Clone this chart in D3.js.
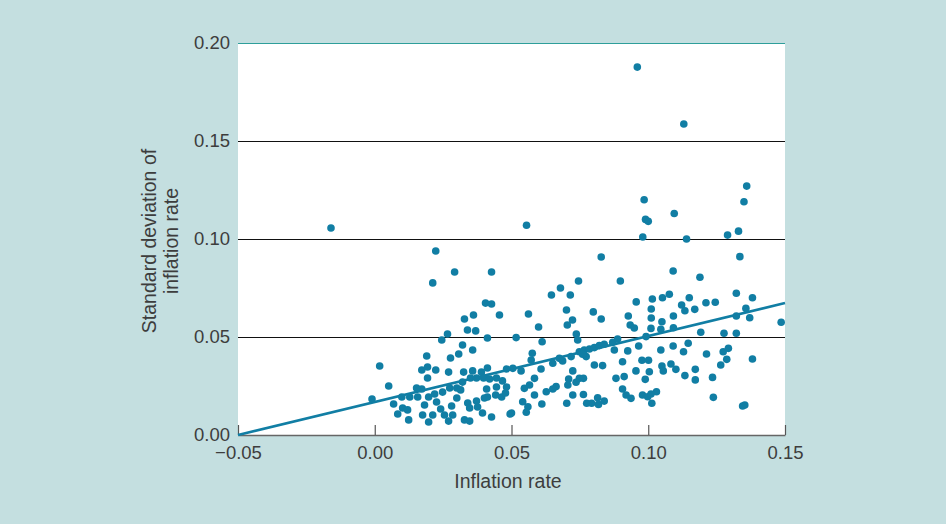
<!DOCTYPE html>
<html>
<head>
<meta charset="utf-8">
<script src="https://cdn.jsdelivr.net/npm/d3@7"></script>
<style>
  body { margin: 0; background: #c4dfe0; }
  svg { display: block; }
</style>
</head>
<body>
<svg id="chart" width="946" height="524"></svg>
<script>
// axis ticks
const xTicks = [-0.05, 0.00, 0.05, 0.10, 0.15];
const yTicks = [0.00, 0.05, 0.10, 0.15, 0.20];

// fitted line, start and end (inflation, std dev)
const fitLine = [[-0.05, 0.0], [0.15, 0.0673]];

// [inflation rate, standard deviation of inflation rate]
const points = [
  // outliers
  [-0.016, 0.1056], [0.096, 0.1877], [0.113, 0.1587], [0.136, 0.127], [0.135, 0.119],
  [0.0985, 0.120], [0.099, 0.110], [0.100, 0.109], [0.1095, 0.113], [0.0555, 0.107],
  [0.098, 0.101], [0.114, 0.100], [0.129, 0.102], [0.133, 0.104], [0.1335, 0.091],
  // 0.00 - 0.05, lower band
  [0.0245, 0.0485], [0.0412, 0.0495], [0.0321, 0.0459], [0.0358, 0.0434], [0.0018, 0.0352],
  [0.019, 0.0403], [0.0277, 0.0393], [0.0307, 0.0413], [0.0172, 0.0332], [0.0193, 0.0347],
  [0.0223, 0.0332], [0.0193, 0.0291], [0.027, 0.0321], [0.0325, 0.0321], [0.0358, 0.0327],
  [0.039, 0.0321], [0.0412, 0.0342], [0.0482, 0.0337], [0.0051, 0.025], [-0.001, 0.0184],
  [0.0099, 0.0194], [0.0128, 0.0194], [0.0157, 0.0194], [0.0172, 0.0235], [0.0197, 0.0194],
  [0.0219, 0.0209], [0.0248, 0.0219], [0.0274, 0.024], [0.030, 0.024], [0.0321, 0.027],
  [0.035, 0.0291], [0.0372, 0.0291], [0.0398, 0.0291], [0.042, 0.0286], [0.0445, 0.0291],
  [0.0467, 0.0276], [0.0482, 0.0245], [0.0069, 0.0158], [0.0102, 0.0138], [0.0084, 0.0107],
  [0.0124, 0.0077], [0.012, 0.0128], [0.0175, 0.0102], [0.0197, 0.0066], [0.0182, 0.0153],
  [0.0212, 0.0102], [0.0241, 0.0133], [0.0255, 0.0102], [0.0281, 0.0148], [0.0285, 0.0102],
  [0.027, 0.0071], [0.030, 0.0189], [0.0314, 0.023], [0.034, 0.0163], [0.0347, 0.0138],
  [0.0376, 0.0143], [0.0394, 0.0112], [0.0372, 0.0173], [0.0409, 0.0235], [0.0412, 0.0194],
  [0.0442, 0.0204], [0.0445, 0.0245], [0.0464, 0.0194], [0.0478, 0.0214], [0.0427, 0.0092],
  [0.0328, 0.0077], [0.0347, 0.0071], [0.050, 0.0112], [0.0401, 0.0189], [0.0226, 0.0168],
  [0.0153, 0.024],
  // 0.00 - 0.05, upper band
  [0.0223, 0.0939], [0.0292, 0.0832], [0.0427, 0.0832], [0.0212, 0.0776], [0.0405, 0.0673],
  [0.0427, 0.0668], [0.0328, 0.0592], [0.0361, 0.0612], [0.0456, 0.0612], [0.0266, 0.0515],
  [0.0339, 0.0536], [0.0369, 0.0531],
  // 0.05 - 0.10, upper band
  [0.0828, 0.0908], [0.0745, 0.0786], [0.0898, 0.0786], [0.0679, 0.075], [0.0646, 0.0714],
  [0.0715, 0.0714], [0.0956, 0.0679], [0.1015, 0.0694], [0.0562, 0.0617], [0.0701, 0.0638],
  [0.0799, 0.0628], [0.0723, 0.0587], [0.0828, 0.0592], [0.0927, 0.0607], [0.1011, 0.0643],
  [0.1011, 0.0597], [0.0599, 0.0551], [0.0704, 0.0561], [0.0934, 0.0561], [0.0949, 0.0546],
  [0.0737, 0.0515],
  // 0.05 - 0.10, lower band
  [0.0517, 0.0497], [0.0612, 0.0476], [0.0742, 0.0485], [0.087, 0.0473], [0.0888, 0.049],
  [0.0965, 0.0454], [0.0992, 0.0502], [0.0748, 0.0425], [0.0766, 0.0434], [0.0785, 0.0439],
  [0.0803, 0.0446], [0.0821, 0.0456], [0.0839, 0.0463], [0.0773, 0.040], [0.076, 0.0412],
  [0.0576, 0.0417], [0.0572, 0.0383], [0.0675, 0.0391], [0.0687, 0.0378], [0.0651, 0.0366],
  [0.0718, 0.040], [0.0803, 0.0357], [0.0833, 0.0354], [0.0876, 0.0434], [0.0925, 0.0429],
  [0.0906, 0.0374], [0.0977, 0.0381], [0.1001, 0.0381], [0.0505, 0.034], [0.0535, 0.0327],
  [0.0608, 0.0337], [0.0724, 0.0327], [0.0709, 0.0286], [0.0748, 0.0289], [0.0763, 0.0289],
  [0.0736, 0.0269], [0.0706, 0.0255], [0.0584, 0.0289], [0.0663, 0.0247], [0.0651, 0.0235],
  [0.0627, 0.0221], [0.0566, 0.0255], [0.0547, 0.0238], [0.0882, 0.0289], [0.0912, 0.0298],
  [0.0955, 0.0327], [0.0989, 0.0284], [0.1004, 0.0323], [0.0541, 0.017], [0.056, 0.0144],
  [0.0554, 0.0116], [0.0584, 0.0204], [0.0611, 0.0158], [0.0702, 0.0162], [0.0724, 0.0204],
  [0.0763, 0.0207], [0.0775, 0.0162], [0.0793, 0.0162], [0.0815, 0.019], [0.0818, 0.0156],
  [0.0839, 0.0173], [0.0906, 0.0235], [0.0919, 0.0204], [0.0937, 0.0187], [0.0979, 0.0204],
  [0.0998, 0.0195], [0.0495, 0.0107],
  // 0.10 - 0.15, upper band
  [0.1091, 0.0837], [0.1189, 0.0805], [0.1052, 0.070], [0.1077, 0.0718], [0.115, 0.070],
  [0.1122, 0.0663], [0.1134, 0.0634], [0.1211, 0.0675], [0.1245, 0.0677], [0.117, 0.0641],
  [0.1322, 0.0723], [0.1381, 0.070], [0.1357, 0.0646], [0.1322, 0.0607], [0.1371, 0.0598],
  [0.1486, 0.0575], [0.1092, 0.0607], [0.105, 0.0578], [0.101, 0.0544], [0.1046, 0.0539],
  [0.1092, 0.0547], [0.1192, 0.0524], [0.1277, 0.0519], [0.1322, 0.0519],
  // 0.10 - 0.15, lower band
  [0.1046, 0.0434], [0.1091, 0.0454], [0.1129, 0.0425], [0.1146, 0.0468], [0.1213, 0.0413],
  [0.1274, 0.0425], [0.1293, 0.0442], [0.1287, 0.0386], [0.1265, 0.0357], [0.1381, 0.0388],
  [0.105, 0.0352], [0.1055, 0.0327], [0.1083, 0.0362], [0.1101, 0.0335], [0.1172, 0.0335],
  [0.1134, 0.0303], [0.1172, 0.0281], [0.1235, 0.0294], [0.103, 0.0221], [0.101, 0.0209],
  [0.1013, 0.0162], [0.1238, 0.0192], [0.1353, 0.0153], [0.1345, 0.0148]
];

const dotColor = "#117ea4";
const textColor = "#3d3d3d";
const font = "'Liberation Sans', Arial, sans-serif";

const svg = d3.select("#chart");
const margin = { top: 43, right: 161, bottom: 89, left: 238 };
const W = 946, H = 524;

const x = d3.scaleLinear().domain([-0.05, 0.15]).range([margin.left, W - margin.right]);
const y = d3.scaleLinear().domain([0, 0.20]).range([H - margin.bottom, margin.top]);

svg.append("rect").attr("width", W).attr("height", H).attr("fill", "#c4dfe0");

// plot area
svg.append("rect")
  .attr("x", x(-0.05)).attr("y", y(0.20))
  .attr("width", x(0.15) - x(-0.05)).attr("height", y(0) - y(0.20))
  .attr("fill", "#ffffff");

// horizontal gridlines, top one is teal
svg.append("g").selectAll("line")
  .data(yTicks.filter(d => d > 0))
  .join("line")
  .attr("x1", x(-0.05)).attr("x2", x(0.15))
  .attr("y1", d => y(d) + 0.5).attr("y2", d => y(d) + 0.5)
  .attr("stroke", d => d === 0.20 ? "#2e9e9a" : "#111")
  .attr("stroke-width", 1.1);

// x axis, ticks pointing inward
const xAxis = svg.append("g")
  .attr("transform", `translate(0,${y(0)})`)
  .call(d3.axisBottom(x).tickValues(xTicks).tickFormat(d3.format(".2f"))
    .tickSizeInner(-10).tickSizeOuter(0).tickPadding(11));
xAxis.select(".domain").attr("stroke", "#666").attr("stroke-width", 1.3);
xAxis.selectAll(".tick line").attr("stroke", "#555").attr("stroke-width", 1.2);
xAxis.selectAll("text").attr("fill", textColor).style("font-family", font).style("font-size", "18.5px");

// y axis, labels only
const yAxis = svg.append("g")
  .attr("transform", `translate(${x(-0.05)},0)`)
  .call(d3.axisLeft(y).tickValues(yTicks).tickFormat(d3.format(".2f")).tickSize(0).tickPadding(8));
yAxis.select(".domain").remove();
yAxis.selectAll("text").attr("fill", textColor).style("font-family", font).style("font-size", "18.5px");

// fitted line
svg.append("line")
  .attr("x1", x(fitLine[0][0])).attr("y1", y(fitLine[0][1]))
  .attr("x2", x(fitLine[1][0])).attr("y2", y(fitLine[1][1]))
  .attr("stroke", dotColor).attr("stroke-width", 2.6);

// scatter
svg.append("g").selectAll("circle")
  .data(points)
  .join("circle")
  .attr("cx", d => x(d[0]))
  .attr("cy", d => y(d[1]))
  .attr("r", 3.8)
  .attr("fill", dotColor);

// axis titles
svg.append("text")
  .attr("x", 508).attr("y", 488)
  .attr("text-anchor", "middle")
  .attr("fill", textColor)
  .style("font-family", font).style("font-size", "19.5px")
  .text("Inflation rate");

const yTitle = svg.append("text")
  .attr("transform", "translate(156,241) rotate(-90)")
  .attr("text-anchor", "middle")
  .attr("fill", textColor)
  .style("font-family", font).style("font-size", "19.5px");
yTitle.append("tspan").attr("x", 0).attr("y", 0).text("Standard deviation of");
yTitle.append("tspan").attr("x", 0).attr("y", 22).text("inflation rate");
</script>
</body>
</html>
